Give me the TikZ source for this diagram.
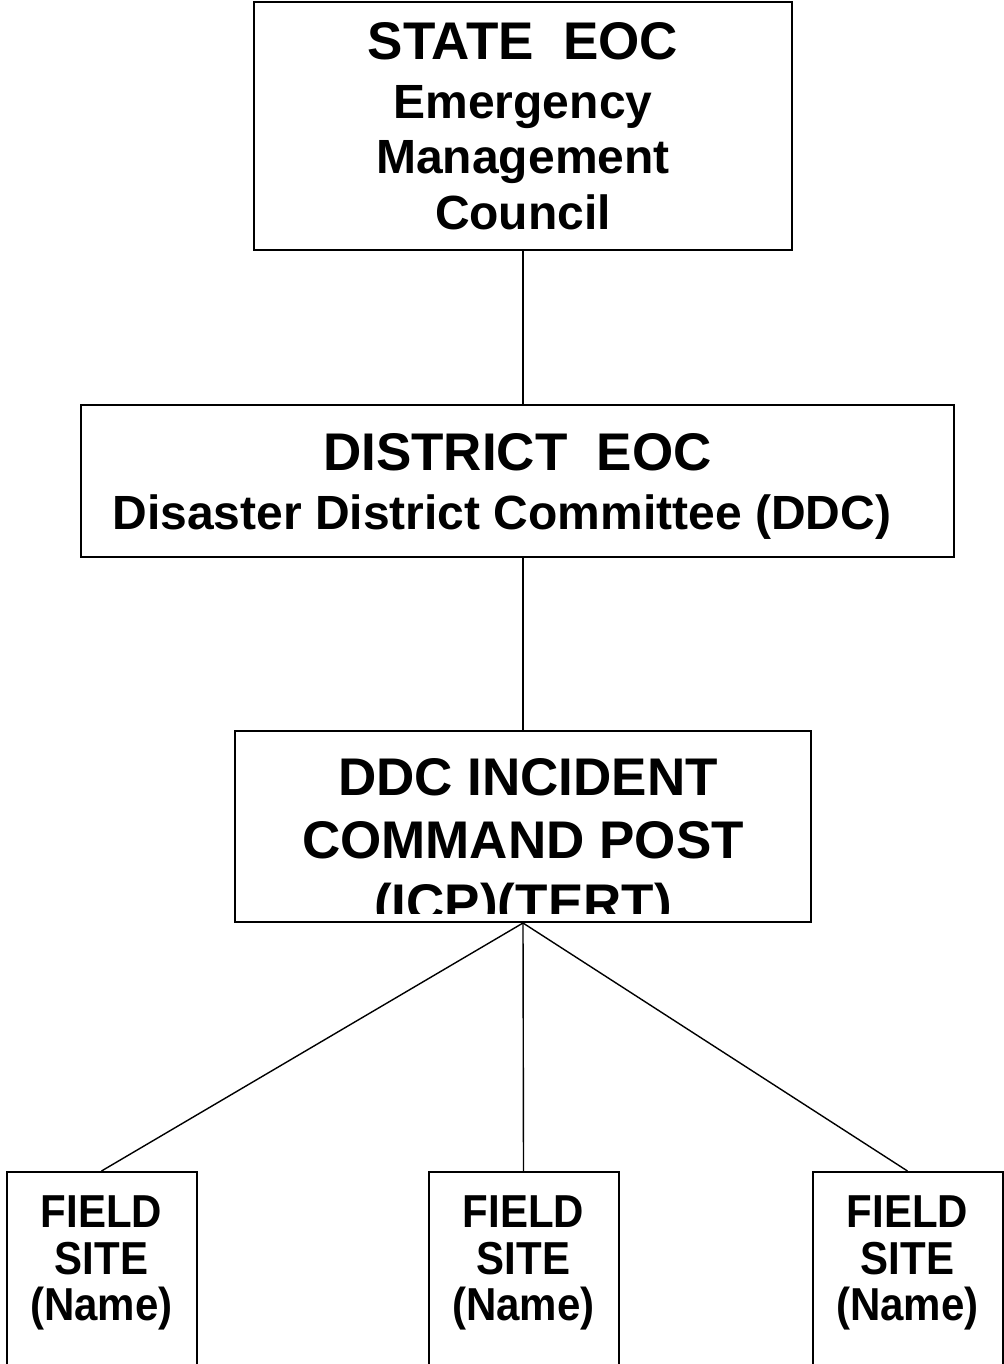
\documentclass[tikz,border=0pt]{standalone}
\usepackage{fontspec}
\setmainfont{Liberation Sans}
\usetikzlibrary{positioning}
\def\fieldlist{{101.5/a}, {523.5/b}, {907.5/c}}
\tikzstyle{box}=[draw,line width=1pt,inner sep=0pt,fill=white]
\tikzstyle{boxtext}=[anchor=base,inner sep=0pt,font=\bfseries]
\tikzstyle{con}=[draw,line width=0.7pt,-]
\newcommand\headfont{\fontsize{26.5}{30}\selectfont\bfseries}
\newcommand\subfont{\fontsize{24}{28}\selectfont\bfseries}
\newcommand\fieldfont{\fontsize{21}{24}\selectfont\bfseries}
\newcommand\tall[1]{\scalebox{1}[1.1]{#1}}

\begin{document}
\begin{tikzpicture}[x=0.5pt,y=-0.5pt]
  \useasboundingbox (0,0) rectangle (1003,1364);

  % First the boxes
  \node[box,minimum width=269pt,minimum height=124pt] (state) at (523,126) {};
  \node[box,minimum width=436.5pt,minimum height=76pt] (district) at (517.5,481) {};
  \node[box,minimum width=288pt,minimum height=95.5pt] (icp) at (523,826.5) {};
  \foreach \x/\name in \fieldlist {
    \node[box,minimum width=95pt,minimum height=124pt] (field-\name) at (\x,1296) {};
  }

  % Texts of the boxes
  \node[boxtext,font=\headfont] (state-1) at (523,60) {STATE\ \ EOC};
  \node[boxtext,font=\subfont] (state-2) at (523,119) {Emergency};
  \node[boxtext,font=\subfont] (state-3) at (523,174) {Management};
  \node[boxtext,font=\subfont] (state-4) at (523,229) {Council};

  \node[boxtext,font=\headfont] (district-1) at (517.5,470) {DISTRICT\ \ EOC};
  \node[boxtext,font=\subfont] (district-2) at (502,529) {Disaster District Committee (DDC)};

  \begin{scope}
    \clip ([shift={(1pt,5pt)}]icp.south west) rectangle ([shift={(-1pt,-1pt)}]icp.north east);
    \node[boxtext,font=\headfont] (icp-1) at (528,795) {DDC INCIDENT};
    \node[boxtext,font=\headfont] (icp-2) at (523,858) {COMMAND POST};
    \node[boxtext,font=\headfont] (icp-3) at (523,921) {(ICP)(TERT)};
  \end{scope}

  \foreach \x/\name in \fieldlist {
    \node[boxtext,font=\fieldfont] (field-\name-1) at (\x,1227) {\tall{FIELD}};
    \node[boxtext,font=\fieldfont] (field-\name-2) at (\x,1274) {\tall{SITE}};
    \node[boxtext,font=\fieldfont] (field-\name-3) at (\x,1320) {\tall{(Name)}};
  }

  % Connect the boxes
  \path[con] (state.south) -- (state.south |- district.north);
  \path[con] (icp.north |- district.south) -- (icp.north);
  \foreach \name in {a,b,c}
    \path[con] (icp.south) -- (field-\name.north);
\end{tikzpicture}
\end{document}
